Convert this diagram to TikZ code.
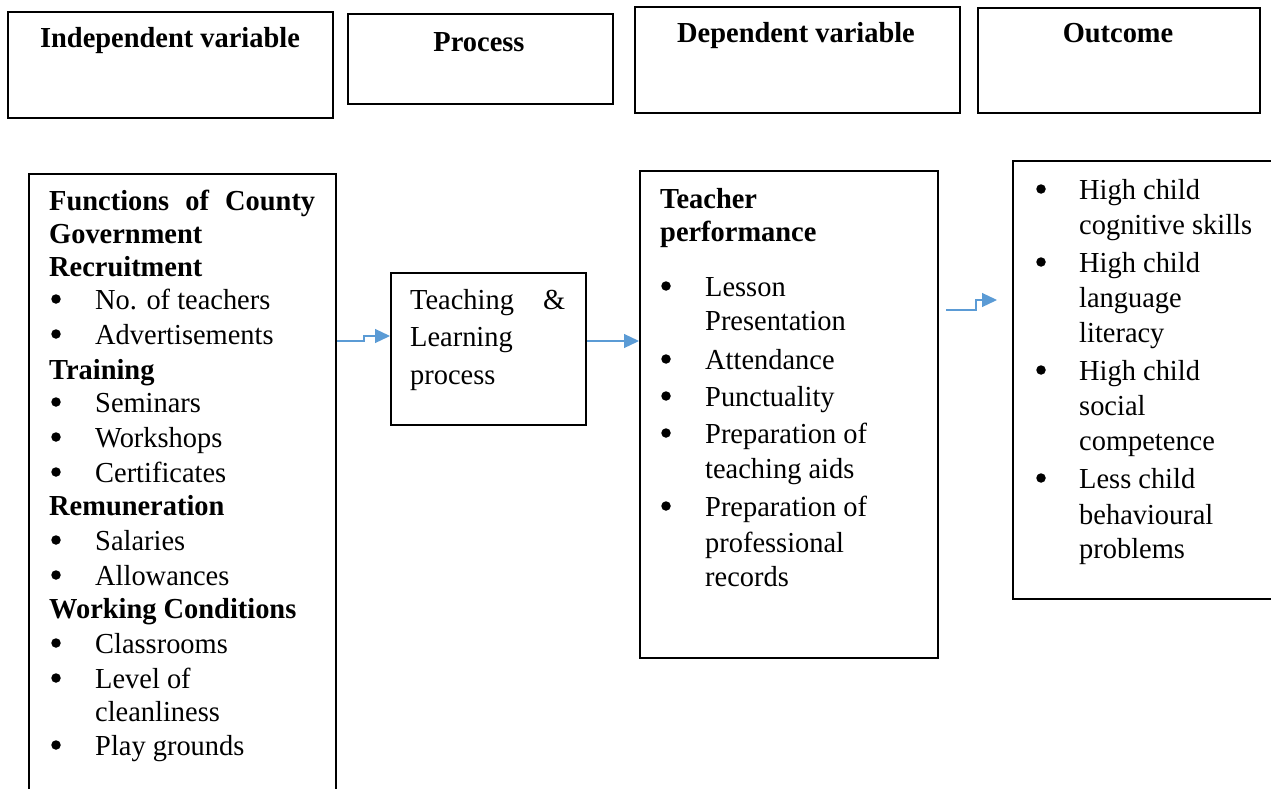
\documentclass[tikz,border=0pt]{standalone}
\usepackage{fontspec}
\setmainfont{Liberation Serif}[FakeStretch=0.98]
\usetikzlibrary{arrows.meta}
\definecolor{arrowblue}{HTML}{5B9BD5}
\newcommand\fsz{\fontsize{29}{29}\selectfont}
\tikzset{
  box/.style={draw, line width=2pt, inner sep=0pt, anchor=north west},
  t/.style={anchor=base west, inner sep=0pt, font=\fsz},
  tb/.style={anchor=base west, inner sep=0pt, font=\fsz\bfseries},
  bl/.style={circle, fill=black, inner sep=0pt, minimum size=9.5pt, yshift=10pt},
  hd/.style={anchor=base, inner sep=0pt, font=\fsz\bfseries},
  conn/.style={draw=arrowblue, line width=1.2pt, -{Triangle[length=15pt,width=14pt]}},
}
\begin{document}
\begin{tikzpicture}[x=1pt,y=-1pt]
\useasboundingbox (0,0) rectangle (1271,789);
\clip (0,0) rectangle (1271,789);
% header boxes
\node[box, minimum width=325pt, minimum height=106pt] (h1) at (7,11) {};
\node[box, minimum width=265pt, minimum height=90pt] (h2) at (347,13) {};
\node[box, minimum width=325pt, minimum height=106pt] (h3) at (634,6) {};
\node[box, minimum width=282pt, minimum height=105pt] (h4) at (977,7) {};
\node[hd] (h1t) at (170,48) {Independent variable};
\node[hd] (h2t) at (479,52) {Process};
\node[hd] (h3t) at (796,43) {Dependent variable};
\node[hd] (h4t) at (1118,43) {Outcome};
% main boxes
\node[box, minimum width=307pt, minimum height=640pt] (lb) at (28,173) {};
\node[box, minimum width=195pt, minimum height=152pt] (pb) at (390,272) {};
\node[box, minimum width=298pt, minimum height=487pt] (tb) at (639,170) {};
\node[box, minimum width=290pt, minimum height=438pt] (ob) at (1012,160) {};
% left box text
\node[tb] (l1) at (49,210) {\makebox[266pt][s]{Functions\hfill of\hfill County}};
\node[tb] (l2) at (49,243) {Government};
\node[tb] (l3) at (49,276) {Recruitment};
\node[bl] (l4b) at (56,309) {};
\node[t] (l4) at (95,309) {No. of teachers};
\node[bl] (l5b) at (56,344) {};
\node[t] (l5) at (95,344) {Advertisements};
\node[tb] (l6) at (49,379) {Training};
\node[bl] (l7b) at (56,412) {};
\node[t] (l7) at (95,412) {Seminars};
\node[bl] (l8b) at (56,447) {};
\node[t] (l8) at (95,447) {Workshops};
\node[bl] (l9b) at (56,482) {};
\node[t] (l9) at (95,482) {Certificates};
\node[tb] (l10) at (49,515) {Remuneration};
\node[bl] (l11b) at (56,550) {};
\node[t] (l11) at (95,550) {Salaries};
\node[bl] (l12b) at (56,585) {};
\node[t] (l12) at (95,585) {Allowances};
\node[tb] (l13) at (49,618) {Working Conditions};
\node[bl] (l14b) at (56,653) {};
\node[t] (l14) at (95,653) {Classrooms};
\node[bl] (l15b) at (56,688) {};
\node[t] (l15) at (95,688) {Level of};
\node[t] (l16) at (95,721) {cleanliness};
\node[bl] (l17b) at (56,755) {};
\node[t] (l17) at (95,755) {Play grounds};
% process text
\node[t] (p1) at (410,309) {\makebox[155pt][s]{Teaching\hfill\&}};
\node[t] (p2) at (410,346) {Learning};
\node[t] (p3) at (410,384) {process};
% teacher box text
\node[tb] (d1) at (660,208) {Teacher};
\node[tb] (d2) at (660,241) {performance};
\node[bl] (d3b) at (666,296) {};
\node[t] (d3) at (705,296) {Lesson};
\node[t] (d4) at (705,330) {Presentation};
\node[bl] (d5b) at (666,369) {};
\node[t] (d5) at (705,369) {Attendance};
\node[bl] (d6b) at (666,406) {};
\node[t] (d6) at (705,406) {Punctuality};
\node[bl] (d7b) at (666,443) {};
\node[t] (d7) at (705,443) {Preparation of};
\node[t] (d8) at (705,478) {teaching aids};
\node[bl] (d9b) at (666,516) {};
\node[t] (d9) at (705,516) {Preparation of};
\node[t] (d10) at (705,552) {professional};
\node[t] (d11) at (705,586) {records};
% outcome box text
\node[bl] (o1b) at (1041,199) {};
\node[t] (o1) at (1079,199) {High child};
\node[t] (o2) at (1079,234) {cognitive skills};
\node[bl] (o3b) at (1041,272) {};
\node[t] (o3) at (1079,272) {High child};
\node[t] (o4) at (1079,307) {language};
\node[t] (o5) at (1079,342) {literacy};
\node[bl] (o6b) at (1041,380) {};
\node[t] (o6) at (1079,380) {High child};
\node[t] (o7) at (1079,415) {social};
\node[t] (o8) at (1079,450) {competence};
\node[bl] (o9b) at (1041,488) {};
\node[t] (o9) at (1079,488) {Less child};
\node[t] (o10) at (1079,524) {behavioural};
\node[t] (o11) at (1079,558) {problems};
% connectors
\draw[conn] (lb.east |- 0,341) -- ++(27,0) -- ++(0,-5) -- (pb.west |- 0,336);
\draw[conn] (pb.east |- 0,341) -- (tb.west |- 0,341);
\coordinate (a3s) at (946,310);
\coordinate (a3e) at (997,300);
\draw[conn] (a3s) -- (976,310) -- (976,300) -- (a3e);
\end{tikzpicture}
\end{document}
